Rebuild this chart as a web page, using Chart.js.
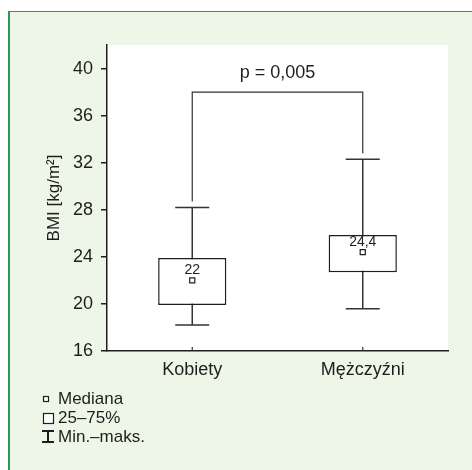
<!DOCTYPE html>
<html>
<head>
<meta charset="utf-8">
<script src="https://cdn.jsdelivr.net/npm/chart.js@4/dist/chart.umd.min.js"></script>
<style>
  html, body { margin: 0; padding: 0; background: #fff; }
  #wrap { position: relative; width: 472px; height: 470px; overflow: hidden; }
  #panel {
    position: absolute; left: 8px; top: 11px; width: 480px; height: 480px;
    background: #eef6e8; border-top: 1px solid #2a9a55; border-left: 2px solid #2a9a55;
  }
  #chart { position: absolute; left: 0; top: 0; }
</style>
</head>
<body>
<div id="wrap">
  <div id="panel"></div>
  <canvas id="chart" width="472" height="470"></canvas>
</div>
<script>
// BMI by sex: box = 25-75%, whiskers = min-max, point = median
const categories = ['Kobiety', 'Mężczyźni'];
const mins = [18.2, 19.6];
const q1 = [19.9, 22.7];
const medians = [22, 24.4];
const q3 = [23.9, 25.85];
const maxs = [28.2, 32.3];
const yTicks = [16, 20, 24, 28, 32, 36, 40];
const pValueText = 'p = 0,005';
const bracketLevel = 38;
const legendItems = ['Mediana', '25–75%', 'Min.–maks.'];

const FONT = "'Liberation Sans', Arial, sans-serif";
const INK = '#1e1e1e';

const boxPlotExtras = {
  id: 'boxPlotExtras',
  beforeDraw(chart) {
    const { ctx, chartArea: a } = chart;
    ctx.save();
    ctx.fillStyle = '#fff';
    ctx.fillRect(a.left, a.top, a.right - a.left, a.bottom - a.top);
    ctx.restore();
  },
  beforeDatasetsDraw(chart) {
    const { ctx, scales: { x, y } } = chart;
    ctx.save();
    ctx.strokeStyle = '#333';
    ctx.lineWidth = 1.5;
    categories.forEach((c, i) => {
      const cx = x.getPixelForValue(i);
      const yMin = y.getPixelForValue(mins[i]);
      const yMax = y.getPixelForValue(maxs[i]);
      ctx.beginPath();
      ctx.moveTo(cx, yMin); ctx.lineTo(cx, yMax);
      ctx.moveTo(cx - 17, yMin); ctx.lineTo(cx + 17, yMin);
      ctx.moveTo(cx - 17, yMax); ctx.lineTo(cx + 17, yMax);
      ctx.stroke();
    });
    ctx.restore();
  },
  afterDatasetsDraw(chart) {
    const { ctx, scales: { x, y }, chartArea: a } = chart;
    ctx.save();
    // median labels
    ctx.fillStyle = INK;
    ctx.font = '14px ' + FONT;
    ctx.textAlign = 'center';
    ctx.textBaseline = 'alphabetic';
    medians.forEach((m, i) => {
      ctx.fillText(String(m).replace('.', ','), x.getPixelForValue(i), y.getPixelForValue(m) - 6.5);
    });
    // significance bracket
    const x0 = x.getPixelForValue(0);
    const x1 = x.getPixelForValue(1);
    const yb = y.getPixelForValue(bracketLevel);
    ctx.strokeStyle = '#333';
    ctx.lineWidth = 1.2;
    ctx.beginPath();
    ctx.moveTo(x0, y.getPixelForValue(maxs[0]) - 6);
    ctx.lineTo(x0, yb);
    ctx.lineTo(x1, yb);
    ctx.lineTo(x1, y.getPixelForValue(maxs[1]) - 6);
    ctx.stroke();
    ctx.font = '18px ' + FONT;
    ctx.fillText(pValueText, (x0 + x1) / 2, yb - 14);
    // inward x ticks
    ctx.lineWidth = 1.2;
    ctx.beginPath();
    categories.forEach((c, i) => {
      const cx = x.getPixelForValue(i);
      ctx.moveTo(cx, a.bottom); ctx.lineTo(cx, a.bottom - 4);
    });
    ctx.stroke();
    ctx.restore();
  },
  afterDraw(chart) {
    const { ctx } = chart;
    ctx.save();
    ctx.fillStyle = INK;
    ctx.strokeStyle = INK;
    ctx.font = '17px ' + FONT;
    ctx.textAlign = 'left';
    ctx.textBaseline = 'middle';
    const rows = [399, 418, 437];
    legendItems.forEach((t, i) => ctx.fillText(t, 58, rows[i]));
    ctx.lineWidth = 1.2;
    ctx.fillStyle = '#fff';
    ctx.fillRect(43.5, 396.5, 5, 5);
    ctx.strokeRect(43.5, 396.5, 5, 5);
    ctx.fillRect(43.5, 413.5, 10, 10);
    ctx.strokeRect(43.5, 413.5, 10, 10);
    ctx.lineWidth = 2;
    ctx.beginPath();
    ctx.moveTo(42, 431); ctx.lineTo(54, 431);
    ctx.moveTo(42, 442); ctx.lineTo(54, 442);
    ctx.moveTo(48, 431); ctx.lineTo(48, 442);
    ctx.stroke();
    ctx.restore();
  }
};

new Chart(document.getElementById('chart'), {
  data: {
    labels: categories,
    datasets: [{
      type: 'line',
      data: medians,
      showLine: false,
      pointStyle: 'rect',
      pointRadius: 3.6,
      pointBackgroundColor: '#fff',
      pointBorderColor: INK,
      pointBorderWidth: 1.2,
      order: 0
    }, {
      type: 'bar',
      data: categories.map((c, i) => [q1[i], q3[i]]),
      backgroundColor: '#fff',
      borderColor: INK,
      borderWidth: 1.5,
      borderSkipped: false,
      barPercentage: 0.4,
      categoryPercentage: 1,
      order: 1
    }]
  },
  options: {
    responsive: false,
    animation: false,
    devicePixelRatio: 1,
    layout: { padding: { top: 45, right: 24, left: 0, bottom: 0 } },
    plugins: { legend: { display: false }, tooltip: { enabled: false } },
    scales: {
      x: {
        offset: true,
        grid: { display: false, drawTicks: false },
        border: { display: true, color: INK, width: 1.5 },
        ticks: { color: INK, font: { family: FONT, size: 18 }, padding: 8 },
        afterFit(s) { s.height = 119; }
      },
      y: {
        min: 16,
        max: 42,
        grid: { drawOnChartArea: false, drawTicks: true, tickLength: 6, color: INK, lineWidth: 1.5 },
        border: { display: true, color: INK, width: 1.5 },
        ticks: { color: INK, font: { family: FONT, size: 18 }, padding: 8 },
        afterBuildTicks(s) { s.ticks = yTicks.map(v => ({ value: v })); },
        afterFit(s) { s.width = 107; },
        title: {
          display: true,
          text: 'BMI [kg/m²]',
          color: INK,
          font: { family: FONT, size: 17 },
          padding: { top: 44, bottom: 0 }
        }
      }
    }
  },
  plugins: [boxPlotExtras]
});
</script>
</body>
</html>
